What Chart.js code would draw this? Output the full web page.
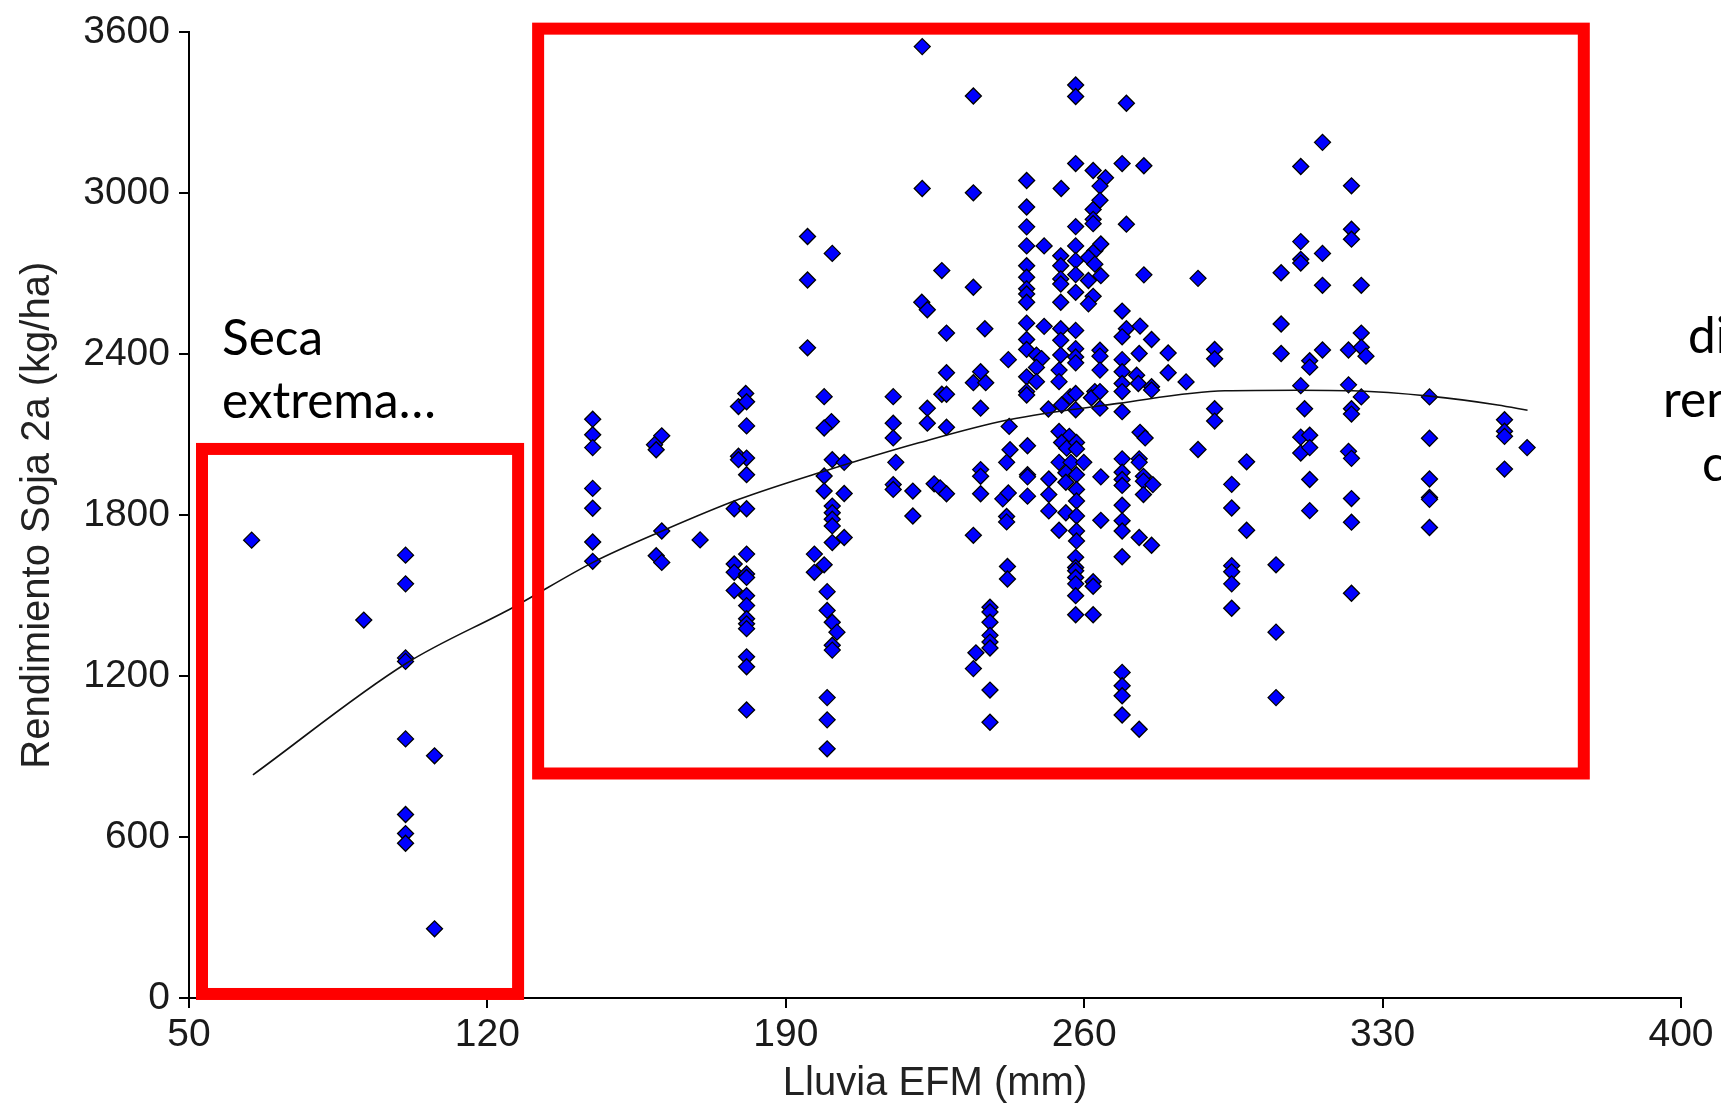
<!DOCTYPE html>
<html>
<head>
<meta charset="utf-8">
<script src="https://cdn.jsdelivr.net/npm/chart.js@4/dist/chart.umd.min.js"></script>
<style>
  html, body { margin: 0; padding: 0; background: #ffffff; }
  #wrap { width: 1721px; height: 1108px; }
</style>
</head>
<body>
<div id="wrap"><canvas id="c" width="1721" height="1108"></canvas></div>
<script>
// ---- Data: Lluvia EFM (mm) vs Rendimiento Soja 2a (kg/ha) ----
const xTicks = [50, 120, 190, 260, 330, 400];
const yTicks = [0, 600, 1200, 1800, 2400, 3000, 3600];

const secaExtrema = [[64.7,1707],[91.0,1409],[100.8,1651],[100.8,1544],[100.8,1268],[100.8,1255],[100.8,966],[100.8,684],[100.8,613],[100.8,577],[107.6,903],[107.6,258]];

const lluvia145_170 = [[144.7,2158],[144.7,2100],[144.7,2052],[144.7,1900],[144.7,1826],[144.7,1700],[144.7,1628],[160.9,2096],[159.2,2063],[159.6,2044],[160.9,1741],[159.6,1649],[160.9,1624],[169.9,1708]];

const lluvia175_185 = [[180.6,2254],[178.9,2205],[180.8,2223],[180.8,2133],[178.9,2020],[180.8,2013],[178.9,2007],[180.8,1951],[177.9,1824],[180.8,1824],[180.8,1655],[177.9,1618],[177.9,1587],[180.8,1581],[180.8,1568],[177.9,1519],[180.8,1500],[180.8,1463],[180.8,1414],[180.8,1395],[180.8,1377],[180.8,1272],[180.8,1235],[180.8,1074]];

const lluvia195_205 = [[195.1,2839],[200.9,2776],[195.1,2677],[195.1,2424],[199.0,2242],[200.7,2149],[199.0,2125],[200.9,2007],[203.7,1997],[199.0,1946],[199.0,1890],[203.7,1881],[200.9,1834],[200.9,1809],[200.9,1785],[200.9,1760],[200.9,1698],[203.7,1717],[196.7,1655],[199.0,1615],[196.7,1587],[199.7,1515],[199.7,1445],[200.9,1401],[202.0,1364],[200.9,1315],[200.9,1297],[199.7,1120],[199.7,1037],[199.7,929]];

const lluvia210_230 = [[215.2,2242],[215.2,2143],[215.2,2088],[215.8,1997],[215.2,1914],[215.2,1896],[219.8,1890],[219.8,1797],[222.0,3547],[222.0,3018],[226.6,2712],[221.9,2594],[223.2,2566],[227.7,2479],[227.7,2331],[226.6,2251],[227.7,2251],[223.2,2199],[223.2,2143],[227.7,2128],[224.8,1917],[226.2,1902],[227.7,1880]];

const lluvia233_243 = [[234.0,3363],[234.0,3002],[234.0,2650],[236.7,2495],[235.7,2335],[234.0,2294],[236.9,2294],[235.7,2199],[235.7,1970],[235.7,1945],[235.7,1880],[234.0,1725],[234.6,1287],[234.0,1228],[237.9,1457],[237.9,1439],[237.9,1401],[237.9,1352],[237.9,1327],[237.9,1305],[237.9,1148],[237.9,1028],[242.2,2380],[242.4,2131],[242.6,2044],[241.8,1997],[240.9,1861],[242.2,1883],[241.8,1795],[241.8,1775],[242.0,1609],[242.0,1562]];

const lluvia245_257 = [[246.5,3048],[246.5,2949],[246.5,2875],[246.5,2804],[246.5,2730],[246.5,2687],[246.5,2644],[246.5,2625],[246.5,2594],[246.5,2516],[246.5,2455],[246.5,2418],[246.5,2316],[246.5,2261],[246.5,2248],[246.7,2059],[246.7,1951],[246.7,1943],[246.7,1871],
[250.6,2804],[250.6,2504],[248.8,2397],[250.0,2384],[248.8,2351],[248.8,2298],[251.6,2196],[251.7,1935],[251.7,1877],[251.7,1816],
[254.6,3018],[254.5,2767],[254.5,2730],[254.5,2681],[254.5,2662],[254.5,2594],[254.5,2495],[254.5,2452],[254.5,2397],[254.1,2341],[254.1,2298],[254.7,2211],[256.7,2242],[254.1,2112],[256.5,2094],[254.7,2071],[255.9,2050],[254.1,1997],[256.9,1997],[255.7,1958],[255.7,1923],[255.7,1809],[254.1,1744]];

const lluvia258_266 = [[258.0,3404],[258.0,3361],[258.0,3111],[258.0,2876],[258.0,2804],[258.0,2749],[258.0,2697],[258.0,2631],[258.0,2489],[258.0,2421],[258.0,2390],[258.0,2368],[258.0,2254],[258.0,2193],[258.2,2071],[258.2,2047],[258.2,1951],[258.2,1896],[258.2,1853],[258.2,1797],[258.2,1741],[258.2,1704],[258.0,1643],[258.0,1605],[258.0,1593],[258.0,1568],[258.0,1544],[258.0,1500],[258.0,1429],[259.9,1997],
[262.1,3085],[262.1,2940],[262.1,2903],[262.1,2887],[262.5,2786],[261.0,2761],[262.5,2736],[261.0,2675],[262.1,2616],[261.0,2588],[262.5,2261],[261.7,2238],[262.1,1552],[262.1,1535],[262.1,1429],
[265.0,3058],[263.7,3027],[263.7,2974],[263.9,2811],[263.9,2693],[263.7,2415],[263.7,2393],[263.7,2341],[263.7,2261],[263.7,2199],[263.9,1943],[263.9,1781]];

const lluvia268_284 = [[269.9,3336],[268.9,3111],[269.9,2885],[268.9,2561],[269.9,2495],[268.9,2465],[268.9,2380],[268.9,2335],[268.9,2291],[268.9,2261],[268.9,2186],[268.9,2010],[268.9,1960],[268.9,1933],[268.9,1911],[268.9,1837],[268.9,1779],[268.9,1741],[268.9,1645],[268.9,1214],[268.9,1164],[268.9,1127],[268.9,1055],
[274.0,3103],[274.0,2696],[273.1,2505],[275.8,2455],[272.9,2403],[272.3,2322],[272.7,2291],[275.8,2279],[275.8,2267],[273.1,2109],[274.3,2088],[272.9,2010],[272.9,1997],[273.9,1945],[273.9,1927],[276.1,1914],[273.9,1877],[272.9,1717],[275.8,1688],[272.9,1002],
[279.7,2405],[279.7,2331],[283.9,2297]];

const lluvia285_365 = [[286.7,2683],[286.7,2045],[290.6,2418],[290.6,2383],[290.6,2197],[290.6,2151],[294.6,1915],[294.6,1827],[294.6,1612],[294.6,1589],[294.6,1544],[294.6,1453],[298.1,1999],[298.1,1744],
[305.0,1615],[305.0,1364],[305.0,1120],[306.2,2704],[306.2,2513],[306.2,2403],
[310.8,3100],[310.8,2820],[310.8,2754],[310.8,2740],[310.8,2283],[311.7,2197],[310.8,2091],[310.8,2032],[312.9,2376],[312.9,2352],[312.9,2098],[312.9,2052],[312.9,1933],[312.9,1817],
[315.9,3190],[315.9,2776],[315.9,2657],[315.9,2416],
[322.7,3028],[322.7,2866],[322.7,2829],[322.0,2416],[322.0,2286],[322.7,2197],[322.7,2177],[322.0,2038],[322.7,2012],[322.7,1862],[322.7,1774],[322.7,1509],
[325.0,2657],[325.0,2479],[325.0,2426],[326.1,2393],[325.0,2241],
[341.0,2241],[341.0,2087],[341.0,1935],[341.0,1866],[341.0,1859],[341.0,1754],
[358.6,2156],[358.6,2113],[358.6,2094],[358.6,1972],[363.9,2052]];

// Fitted curve
const curvaX = [65, 101, 126, 145, 161, 179, 199, 221, 242, 268, 293, 310, 323, 341, 357, 364];
const curvaY = [832, 1248, 1456, 1626, 1741, 1859, 1964, 2069, 2155, 2217, 2264, 2266, 2264, 2244, 2211, 2191];

// Highlight boxes (data units)
const cajas = [
  { x0: 53.05, x1: 127.2, y0: 15, y1: 2047 },
  { x0: 131.9, x1: 377.2, y0: 837, y1: 3614 }
];

// ---- Build chart ----
const puntos = [].concat(secaExtrema, lluvia145_170, lluvia175_185, lluvia195_205,
  lluvia210_230, lluvia233_243, lluvia245_257, lluvia258_266, lluvia268_284, lluvia285_365)
  .map(p => ({ x: p[0], y: p[1] }));
const curva = curvaX.map((x, i) => ({ x, y: curvaY[i] }));

const cajasPlugin = {
  id: 'cajas',
  afterDatasetsDraw(chart) {
    const { ctx, scales: { x, y } } = chart;
    ctx.save();
    ctx.strokeStyle = '#FF0000';
    ctx.lineWidth = 12;
    ctx.lineJoin = 'miter';
    for (const b of cajas) {
      const l = x.getPixelForValue(b.x0), r = x.getPixelForValue(b.x1);
      const t = y.getPixelForValue(b.y1), bt = y.getPixelForValue(b.y0);
      ctx.strokeRect(l, t, r - l, bt - t);
    }
    ctx.restore();
  },
  afterDraw(chart) {
    const ctx = chart.ctx;
    ctx.save();
    ctx.font = '100px Lato';
    const w = ctx.measureText('extrema\u2026').width;
    const size = 100 * 214 / w;
    ctx.font = size.toFixed(1) + 'px Lato';
    ctx.fillStyle = '#000';
    ctx.textBaseline = 'alphabetic';
    ctx.textAlign = 'left';
    ctx.fillText('Seca', 222, 355);
    ctx.fillText('extrema\u2026', 222, 418);
    ctx.fillText('di', 1688, 353);
    ctx.fillText('ren', 1663, 417);
    ctx.fillText('c', 1702, 481);
    ctx.restore();
  }
};

Chart.defaults.font.family = "'Liberation Sans', Arial, sans-serif";

new Chart(document.getElementById('c'), {
  type: 'scatter',
  data: {
    datasets: [
      {
        type: 'line',
        data: curva,
        borderColor: '#111',
        borderWidth: 1.6,
        pointRadius: 0,
        fill: false,
        tension: 0.4,
        cubicInterpolationMode: 'monotone',
        order: 0
      },
      {
        data: puntos,
        pointStyle: 'rectRot',
        pointRadius: 8,
        backgroundColor: '#0000FF',
        borderColor: '#000000',
        borderWidth: 1.3,
        order: 1
      }
    ]
  },
  options: {
    responsive: false,
    animation: false,
    devicePixelRatio: 1,
    layout: { padding: { left: 0, top: 27, right: 40, bottom: 0 } },
    plugins: { legend: { display: false }, tooltip: { enabled: false } },
    scales: {
      x: {
        type: 'linear', min: 50, max: 400,
        afterBuildTicks: s => { s.ticks = xTicks.map(v => ({ value: v })); },
        afterFit: s => { s.height = 110; },
        grid: { display: true, drawOnChartArea: false, drawTicks: true, tickLength: 10, color: '#000', lineWidth: 2 },
        border: { display: true, color: '#000', width: 2 },
        ticks: { color: '#1a1a1a', font: { size: 39 }, padding: 4, maxRotation: 0, callback: v => String(v) },
        title: { display: true, text: 'Lluvia EFM (mm)', color: '#222', font: { size: 40, lineHeight: 1.2 }, padding: { top: 0, bottom: 0 } }
      },
      y: {
        type: 'linear', min: 0, max: 3600,
        afterBuildTicks: s => { s.ticks = yTicks.map(v => ({ value: v })); },
        afterFit: s => { s.width = 189; },
        grid: { display: true, drawOnChartArea: false, drawTicks: true, tickLength: 10, color: '#000', lineWidth: 2 },
        border: { display: true, color: '#000', width: 2 },
        ticks: { color: '#1a1a1a', font: { size: 39 }, padding: 9, callback: v => String(v) },
        title: { display: true, text: 'Rendimiento Soja 2a (kg/ha)', color: '#222', font: { size: 40, lineHeight: 1.2 }, padding: { top: 14, bottom: 0 } }
      }
    }
  },
  plugins: [cajasPlugin]
});
</script>
</body>
</html>
